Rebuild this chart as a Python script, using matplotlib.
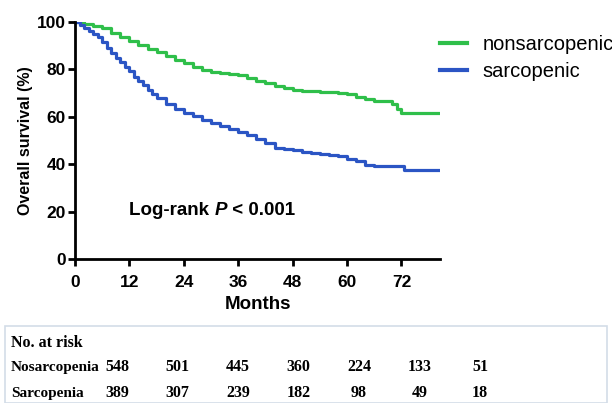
import matplotlib.pyplot as plt
from matplotlib.patches import Rectangle

# ── Data ─────────────────────────────────────────────────────────────────────
NONSARC_T = [0, 2, 4, 6, 8, 10, 12, 14, 16, 18, 20, 22, 24, 26, 28, 30, 32, 34,
             36, 38, 40, 42, 44, 46, 48, 50, 52, 54, 56, 58, 60, 62, 64, 66, 68,
             70, 71, 72, 80.5]
NONSARC_S = [100, 99.2, 98.5, 97.3, 95.5, 93.8, 92, 90.5, 88.8, 87.2, 85.5, 84,
             82.5, 81, 79.8, 79, 78.4, 78, 77.6, 76.4, 75.2, 74.2, 73.2, 72.2,
             71.5, 71, 70.8, 70.6, 70.3, 70, 69.6, 68.4, 67.5, 66.8, 66.8, 65.5,
             63.5, 61.5, 61.5]

SARC_T = [0, 1, 2, 3, 4, 5, 6, 7, 8, 9, 10, 11, 12, 13, 14, 15, 16, 17, 18, 20,
          22, 24, 26, 28, 30, 32, 34, 36, 38, 40, 42, 44, 46, 48, 50, 52, 54, 56,
          58, 60, 62, 64, 66, 68, 70, 72, 72.5, 80.5]
SARC_S = [100, 98.8, 97.5, 96.3, 95, 93.5, 91.5, 89, 87, 85, 83, 81, 79.5, 77,
          75.2, 73.3, 71.5, 69.5, 68, 65.5, 63.3, 61.8, 60.2, 58.6, 57.2, 56,
          54.8, 53.7, 52.2, 50.8, 49, 47, 46.3, 46.1, 45.3, 44.8, 44.3, 43.8,
          43.4, 42, 41.2, 39.8, 39.2, 39.2, 39.2, 39.2, 37.5, 37.5]

X_TICKS = [0, 12, 24, 36, 48, 60, 72]
Y_TICKS = [0, 20, 40, 60, 80, 100]

RISK_LABELS = ['Nosarcopenia', 'Sarcopenia']
RISK_NONSARC = [548, 501, 445, 360, 224, 133, 51]
RISK_SARC = [389, 307, 239, 182, 98, 49, 18]

GREEN = '#2fbf4a'
BLUE = '#2b55c4'
SANS = 'Liberation Sans'
SERIF = 'Liberation Serif'

W, H = 612, 403
fig = plt.figure(figsize=(W / 100, H / 100), dpi=100)
ax = fig.add_axes([75 / W, 1 - 259 / H, (440 - 75) / W, (259 - 22) / H])

ax.plot(NONSARC_T, NONSARC_S, drawstyle='steps-post', color=GREEN, lw=2.3,
        label='nonsarcopenic')
ax.plot(SARC_T, SARC_S, drawstyle='steps-post', color=BLUE, lw=2.3,
        label='sarcopenic')

ax.set_xlim(0, 80.5)
ax.set_ylim(0, 100)
ax.set_xticks(X_TICKS)
ax.set_yticks(Y_TICKS)
for s in ['top', 'right']:
    ax.spines[s].set_visible(False)
for s in ['left', 'bottom']:
    ax.spines[s].set_linewidth(2)
ax.tick_params(width=2, length=5, labelsize=12.5)
ax.tick_params(axis='x', pad=6.5)
ax.tick_params(axis='y', pad=1.5)
for lab in ax.get_xticklabels() + ax.get_yticklabels():
    lab.set_fontweight('bold')
    lab.set_family(SANS)

ax.set_xlabel('Months', fontsize=13.5, fontweight='bold', family=SANS, labelpad=4)
ax.set_ylabel('Overall survival (%)', fontsize=11.5, fontweight='bold',
              family=SANS, labelpad=3)

# log-rank annotation with italic P
t1 = ax.text(12.0, 20.5, 'Log-rank ', fontsize=13.5, fontweight='bold',
             family=SANS, va='center')
t2 = ax.annotate('P', xy=(1, 0), xycoords=t1, va='bottom', fontsize=13.5,
                 fontweight='bold', style='italic', family=SANS)
ax.annotate(' < 0.001', xy=(1, 0), xycoords=t2, va='bottom', fontsize=13.5,
            fontweight='bold', family=SANS)

leg = ax.legend(loc='upper left', bbox_to_anchor=(440 / W, 1 - 35 / H),
                bbox_transform=fig.transFigure, frameon=False, fontsize=14.5,
                handlelength=1.35, handletextpad=0.75, labelspacing=0.42,
                borderaxespad=0, borderpad=0)
for line in leg.get_lines():
    line.set_linewidth(3)
for txt in leg.get_texts():
    txt.set_family(SANS)

# ── Number at risk table ─────────────────────────────────────────────────────
fig.patches.append(Rectangle((5 / W, 0), 602 / W, 1 - 326 / H,
                             transform=fig.transFigure, fill=False,
                             edgecolor='#d3dde8', lw=1.2))
fig.text(11 / W, 1 - 343 / H, 'No. at risk', family=SERIF, fontweight='bold',
         fontsize=11.5, va='center')
col_x = [117 + 60.5 * i for i in range(len(RISK_NONSARC))]
for row_y, label, vals in [(367, RISK_LABELS[0], RISK_NONSARC),
                           (393, RISK_LABELS[1], RISK_SARC)]:
    fig.text(11 / W, 1 - row_y / H, label, family=SERIF, fontweight='bold',
             fontsize=11, va='center')
    for x, v in zip(col_x, vals):
        fig.text(x / W, 1 - row_y / H, str(v), family=SERIF, fontweight='bold',
                 fontsize=11.5, va='center', ha='center')

fig.savefig('out.png', dpi=100)
